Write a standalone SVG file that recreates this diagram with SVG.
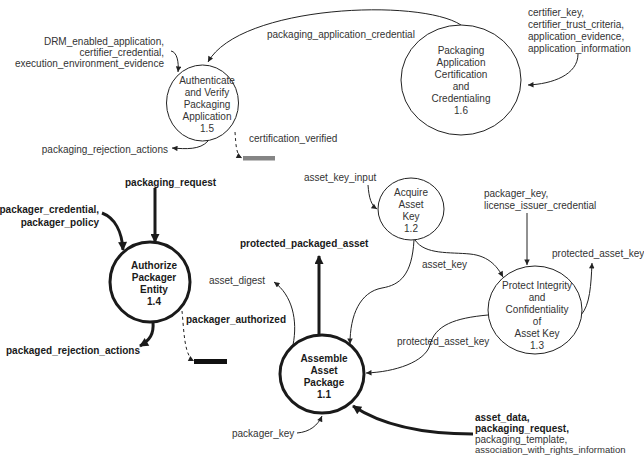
<svg xmlns="http://www.w3.org/2000/svg" width="644" height="456" viewBox="0 0 644 456">
<style>
text{font-family:"Liberation Sans",Arial,Helvetica,sans-serif;font-size:10px;fill:#333}
.b{font-weight:bold;fill:#1a1a1a}
.m{text-anchor:middle}
.e{text-anchor:end}
.n{fill:#fff;stroke:#222;stroke-width:1}
.nt{fill:#fff;stroke:#1a1a1a;stroke-width:3}
.c{fill:none;stroke:#222;stroke-width:1;marker-end:url(#a)}
.ct{fill:none;stroke:#1a1a1a;stroke-width:3;marker-end:url(#at)}
.d{stroke-dasharray:3 3}
</style>
<defs>
<marker id="a" viewBox="0 0 10 10" refX="10" refY="5" markerWidth="7" markerHeight="5.5" markerUnits="userSpaceOnUse" orient="auto"><path d="M0,0 L10,5 L0,10 z" fill="#222"/></marker>
<marker id="at" viewBox="0 0 10 10" refX="9" refY="5" markerWidth="11" markerHeight="9" markerUnits="userSpaceOnUse" orient="auto"><path d="M0,0 L10,5 L0,10 z" fill="#1a1a1a"/></marker>
</defs>
<rect width="644" height="456" fill="#fff"/>
<g id="connectors">
<path class="c" d="M461,25 C420,-2 240,5 208,62"/>
<path class="c" d="M578,54 C578,75 552,84 528,85"/>
<path class="c" d="M171,51 C177,52 179,62 178,72"/>
<path class="c" d="M208,141 C200,150 186,149 172,148"/>
<path class="c d" d="M235,132 C236,145 236,155 242,158"/>
<path class="ct" d="M155,188 L155,242"/>
<path class="ct" d="M102,213 C115,218 122,232 123,250"/>
<path class="ct" d="M153,322 C154,334 150,340 140,346"/>
<path class="c d" d="M182,311 C184,330 184,356 194,361"/>
<path class="c" d="M368,185 C369,198 371,205 377,209"/>
<path class="c" d="M415,240 C425,255 450,252 470,254 C490,256 498,268 503,277"/>
<path class="c" d="M414,240 C412,275 400,285 382,288 C360,292 350,315 350,344"/>
<path class="c" d="M527,213 L527,265"/>
<path class="c" d="M581,315 C590,305 591,285 592,263"/>
<path class="c" d="M488,315 C455,318 435,325 430,345 C425,362 395,372 366,373"/>
<path class="ct" d="M319,336 L319,256"/>
<path class="c" d="M293,345 C298,320 292,295 274,282"/>
<path class="c" d="M297,433 C310,432 318,425 322,416"/>
<path class="ct" d="M473,434 C420,434 380,424 353,406"/>
<rect x="243" y="156" width="32" height="4.5" fill="#858585"/>
<rect x="194" y="359" width="33" height="5" fill="#111"/>
</g>
<g id="n15">
<ellipse class="n" cx="202.5" cy="103" rx="36" ry="38"/>
<text class="m" x="207" y="84">Authenticate</text>
<text class="m" x="207" y="96">and Verify</text>
<text class="m" x="207" y="108">Packaging</text>
<text class="m" x="207" y="120">Application</text>
<text class="m" x="207" y="132">1.5</text>
</g>
<g id="n16">
<ellipse class="n" cx="461" cy="80" rx="60" ry="55"/>
<text class="m" x="461" y="54">Packaging</text>
<text class="m" x="461" y="66">Application</text>
<text class="m" x="461" y="78">Certification</text>
<text class="m" x="461" y="90">and</text>
<text class="m" x="461" y="102">Credentialing</text>
<text class="m" x="461" y="114">1.6</text>
</g>
<g id="n14">
<ellipse class="nt" cx="150" cy="282" rx="40" ry="40"/>
<text class="b m" x="154" y="269">Authorize</text>
<text class="b m" x="154" y="281">Packager</text>
<text class="b m" x="154" y="293">Entity</text>
<text class="b m" x="154" y="305">1.4</text>
</g>
<g id="n12">
<ellipse class="n" cx="411" cy="209" rx="33" ry="31"/>
<text class="m" x="411" y="196">Acquire</text>
<text class="m" x="411" y="208">Asset</text>
<text class="m" x="411" y="220">Key</text>
<text class="m" x="411" y="232">1.2</text>
</g>
<g id="n13">
<ellipse class="n" cx="535" cy="310" rx="47" ry="44"/>
<text class="m" x="537" y="289">Protect Integrity</text>
<text class="m" x="537" y="301">and</text>
<text class="m" x="537" y="313">Confidentiality</text>
<text class="m" x="537" y="325">of</text>
<text class="m" x="537" y="337">Asset Key</text>
<text class="m" x="537" y="349">1.3</text>
</g>
<g id="n11">
<ellipse class="nt" cx="322" cy="374" rx="42" ry="39"/>
<text class="b m" x="324" y="362">Assemble</text>
<text class="b m" x="324" y="374">Asset</text>
<text class="b m" x="324" y="386">Package</text>
<text class="b m" x="324" y="398">1.1</text>
</g>
<g id="labels">
<text x="267" y="38">packaging_application_credential</text>
<text x="528" y="16">certifier_key,</text>
<text x="528" y="28">certifier_trust_criteria,</text>
<text x="528" y="40">application_evidence,</text>
<text x="528" y="52">application_information</text>
<text class="e" x="164" y="45">DRM_enabled_application,</text>
<text class="e" x="164" y="56">certifier_credential,</text>
<text class="e" x="164" y="67">execution_environment_evidence</text>
<text class="e" x="168" y="152.5">packaging_rejection_actions</text>
<text x="249" y="141.5">certification_verified</text>
<text class="b" x="125" y="185.5">packaging_request</text>
<text class="b e" x="99" y="212.5">packager_credential,</text>
<text class="b e" x="99" y="225.5">packager_policy</text>
<text class="b" x="6" y="353.5">packaged_rejection_actions</text>
<text class="b" x="186" y="322.5">packager_authorized</text>
<text class="b" x="240" y="246.5">protected_packaged_asset</text>
<text x="209" y="283.5">asset_digest</text>
<text x="304" y="180.5">asset_key_input</text>
<text x="484" y="196.5">packager_key,</text>
<text x="484" y="208.5">license_issuer_credential</text>
<text x="552" y="256.5">protected_asset_key</text>
<text x="422" y="267.5">asset_key</text>
<text x="397" y="344.5">protected_asset_key</text>
<text x="232" y="436.5">packager_key</text>
<text class="b" x="475" y="421">asset_data,</text>
<text class="b" x="475" y="432">packaging_request,</text>
<text x="475" y="443">packaging_template,</text>
<text x="475" y="453" style="font-size:9.5px">association_with_rights_information</text>
</g>
</svg>
